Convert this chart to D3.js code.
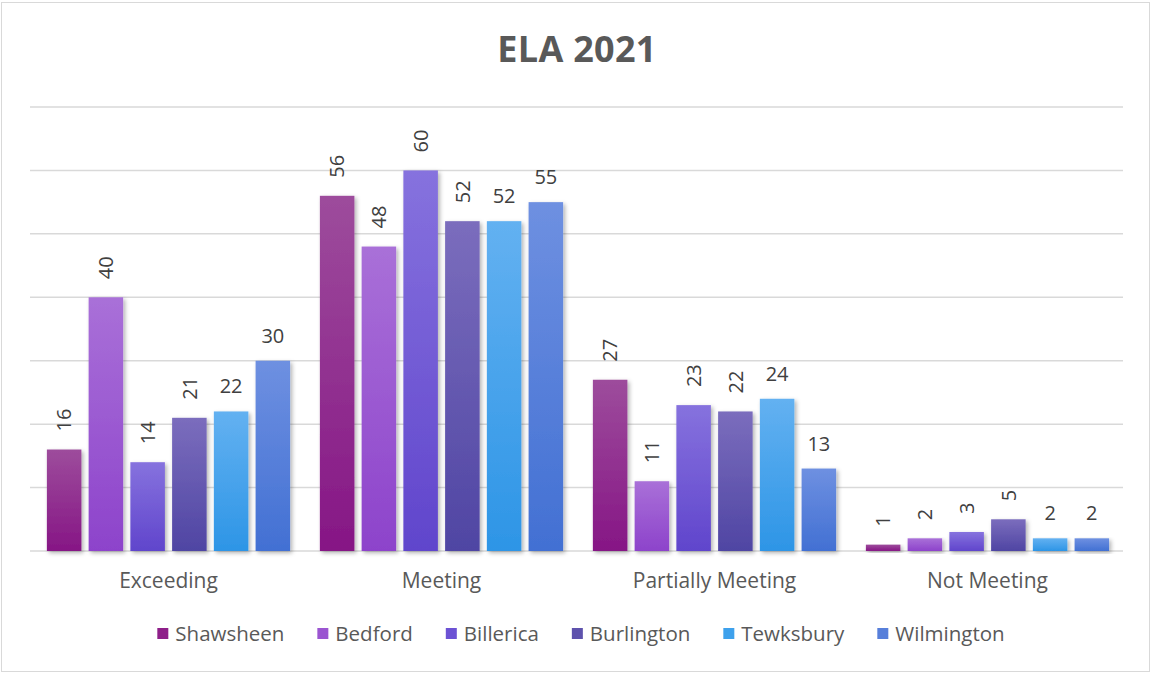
<!DOCTYPE html>
<html>
<head>
<meta charset="utf-8">
<script src="https://cdn.jsdelivr.net/npm/d3@7"></script>
<style>
  html, body { margin: 0; padding: 0; background: #fff; }
  svg { display: block; font-family: "Open Sans", "DejaVu Sans", sans-serif; }
</style>
</head>
<body>
<svg id="chart" width="1152" height="673"></svg>
<script>
// Achievement levels (x categories)
const categories = ["Exceeding", "Meeting", "Partially Meeting", "Not Meeting"];
// Districts (series)
const series = ["Shawsheen", "Bedford", "Billerica", "Burlington", "Tewksbury", "Wilmington"];
// Percent of students per level, one array per district
const shawsheen  = [16, 56, 27, 1];
const bedford    = [40, 48, 11, 2];
const billerica  = [14, 60, 23, 3];
const burlington = [21, 52, 22, 5];
const tewksbury  = [22, 52, 24, 2];
const wilmington = [30, 55, 13, 2];
const values = [shawsheen, bedford, billerica, burlington, tewksbury, wilmington];
// Y axis gridline values
const yTicks = [0, 10, 20, 30, 40, 50, 60, 70];

// Gradient stops per district: [top, bottom]
const colors = [
  ["#9d4c9c", "#861685"],
  ["#a970d8", "#8d43cb"],
  ["#8672de", "#6045cc"],
  ["#7b6dbd", "#4f45a3"],
  ["#63b1f1", "#2d95e6"],
  ["#6e90e1", "#4270d3"]
];
const legendColors = ["#8e1f89", "#9b55d1", "#6c52d4", "#5e52ad", "#3ea1ec", "#577fda"];
// District labels drawn rotated vs. horizontal
const rotatedLabel = [true, true, true, true, false, false];

const svg = d3.select("#chart");
const W = 1152, H = 673;
const gridLeft = 30, gridRight = 1123;
const baseY = 551, topY = 107;

const textColor = "#595959";
const labelColor = "#404040";

// chart border
svg.append("rect")
  .attr("x", 1.5).attr("y", 2.5)
  .attr("width", W - 4).attr("height", H - 4)
  .attr("fill", "#fff").attr("stroke", "#d9d9d9").attr("stroke-width", 1);

const defs = svg.append("defs");
colors.forEach((c, i) => {
  const g = defs.append("linearGradient")
    .attr("id", "grad" + i)
    .attr("x1", 0).attr("y1", 0).attr("x2", 0).attr("y2", 1);
  g.append("stop").attr("offset", "0%").attr("stop-color", c[0]);
  g.append("stop").attr("offset", "100%").attr("stop-color", c[1]);
});
const f = defs.append("filter").attr("id", "shadow")
  .attr("x", "-30%").attr("y", "-10%").attr("width", "160%").attr("height", "130%");
f.append("feDropShadow")
  .attr("dx", 2).attr("dy", 2).attr("stdDeviation", 2)
  .attr("flood-color", "#000").attr("flood-opacity", 0.3);

const x0 = d3.scaleBand()
  .domain(categories)
  .range([32, 1124])
  .paddingInner(0.095).paddingOuter(0.0475);
const x1 = d3.scaleBand()
  .domain(series)
  .range([0, x0.bandwidth()])
  .paddingInner(0.173).paddingOuter(0.046);
const y = d3.scaleLinear()
  .domain([0, 70])
  .range([baseY, topY]);

// title
svg.append("text")
  .attr("x", W / 2 + 1).attr("y", 62)
  .attr("text-anchor", "middle")
  .attr("font-size", 36).attr("font-weight", "bold")
  .attr("letter-spacing", 0.3)
  .attr("fill", textColor)
  .text("ELA 2021");

// gridlines
svg.append("g").selectAll("line")
  .data(yTicks)
  .join("line")
  .attr("x1", gridLeft).attr("x2", gridRight)
  .attr("y1", d => y(d)).attr("y2", d => y(d))
  .attr("stroke", "#d9d9d9").attr("stroke-width", 1.5);

// bars
const groups = svg.append("g").selectAll("g")
  .data(categories)
  .join("g")
  .attr("transform", c => `translate(${x0(c)},0)`);

groups.selectAll("rect")
  .data((c, ci) => series.map((s, si) => ({ s, si, v: values[si][ci] })))
  .join("rect")
  .attr("x", d => x1(d.s))
  .attr("y", d => y(d.v))
  .attr("width", x1.bandwidth())
  .attr("height", d => y(0) - y(d.v))
  .attr("fill", d => `url(#grad${d.si})`)
  .attr("filter", "url(#shadow)");

// value labels
groups.selectAll("text")
  .data((c, ci) => series.map((s, si) => ({ s, si, v: values[si][ci] })))
  .join("text")
  .attr("font-size", 20)
  .attr("fill", labelColor)
  .each(function (d) {
    const cx = x1(d.s) + x1.bandwidth() / 2;
    const top = y(d.v) - 18;
    const t = d3.select(this);
    if (rotatedLabel[d.si]) {
      t.attr("transform", `translate(${cx},${top}) rotate(-90)`)
        .attr("text-anchor", "start")
        .attr("dy", "0.36em");
    } else {
      t.attr("x", cx).attr("y", top).attr("text-anchor", "middle");
    }
  })
  .text(d => d.v);

// category labels
svg.append("g").selectAll("text")
  .data(categories)
  .join("text")
  .attr("x", c => x0(c) + x0.bandwidth() / 2)
  .attr("y", 588)
  .attr("text-anchor", "middle")
  .attr("font-size", 21)
  .attr("fill", textColor)
  .text(c => c);

// legend
const legend = svg.append("g");
const items = legend.selectAll("g")
  .data(series)
  .join("g");
items.append("rect")
  .attr("width", 11).attr("height", 11)
  .attr("y", 628)
  .attr("fill", (d, i) => legendColors[i]);
items.append("text")
  .attr("x", 18).attr("y", 641)
  .attr("font-size", 20.5)
  .attr("fill", textColor)
  .text(d => d);
const widths = [];
items.each(function () {
  widths.push(18 + d3.select(this).select("text").node().getComputedTextLength());
});
const gap = 33;
const total = d3.sum(widths) + gap * (widths.length - 1);
let cursor = 581 - total / 2;
items.attr("transform", (d, i) => {
  const tx = cursor;
  cursor += widths[i] + gap;
  return `translate(${tx},0)`;
});
</script>
</body>
</html>
